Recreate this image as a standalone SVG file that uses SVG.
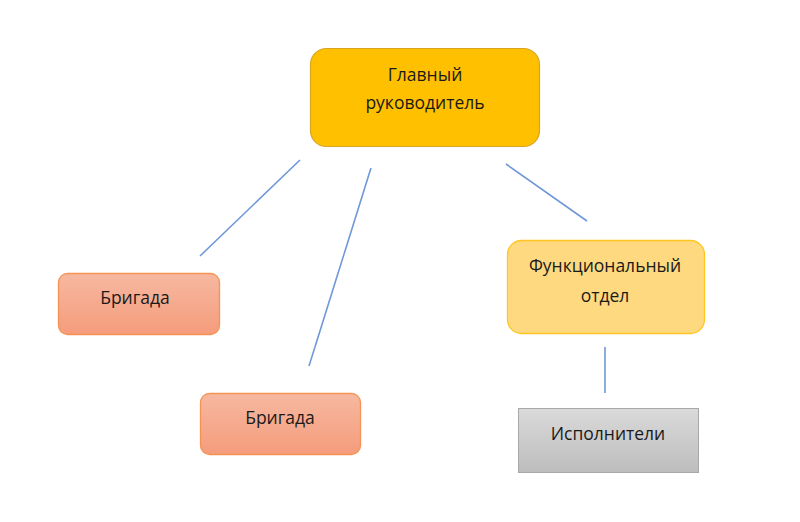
<svg xmlns="http://www.w3.org/2000/svg" width="800" height="522" viewBox="0 0 800 522">
<style>
text{font-family:"Open Sans","Liberation Sans",sans-serif;font-size:17.5px;fill:#1a1a1a;text-anchor:middle}
.ln{stroke:#6f98d8;stroke-width:1.6;fill:none}
</style>
<defs>
<linearGradient id="og" x1="0" y1="0" x2="0" y2="1"><stop offset="0" stop-color="#f6b8a0"/><stop offset="1" stop-color="#f59c7c"/></linearGradient>
<linearGradient id="gg" x1="0" y1="0" x2="0" y2="1"><stop offset="0" stop-color="#dadada"/><stop offset="1" stop-color="#bdbdbd"/></linearGradient>
</defs>
<rect width="800" height="522" fill="#fff"/>
<g id="connectors">
<line class="ln" x1="300" y1="160" x2="200" y2="256"/>
<line class="ln" x1="371" y1="168" x2="309" y2="366"/>
<line class="ln" x1="506" y1="164" x2="587" y2="221"/>
<line class="ln" x1="605" y1="347" x2="605" y2="393"/>
</g>
<g id="chief">
<rect x="310.5" y="48.5" width="229" height="98" rx="16" fill="#ffc000" stroke="#d9a520" stroke-width="1.2"/>
<text x="425" y="81">Главный</text>
<text x="425" y="109">руководитель</text>
</g>
<g id="brigade1">
<rect x="58.5" y="273.5" width="161" height="61" rx="9" fill="url(#og)" stroke="#f49353" stroke-width="1.3"/>
<text x="135" y="304">Бригада</text>
</g>
<g id="brigade2">
<rect x="200.5" y="393.5" width="160" height="61" rx="9" fill="url(#og)" stroke="#f49353" stroke-width="1.3"/>
<text x="280" y="424">Бригада</text>
</g>
<g id="functional">
<rect x="507.5" y="240.5" width="197" height="93" rx="14" fill="#ffd97f" stroke="#ffc623" stroke-width="1.3"/>
<text x="605" y="272">Функциональный</text>
<text x="605" y="302">отдел</text>
</g>
<g id="executors">
<rect x="518.5" y="408.5" width="180" height="64" fill="url(#gg)" stroke="#a8a8a8" stroke-width="1"/>
<text x="608" y="440">Исполнители</text>
</g>
</svg>
